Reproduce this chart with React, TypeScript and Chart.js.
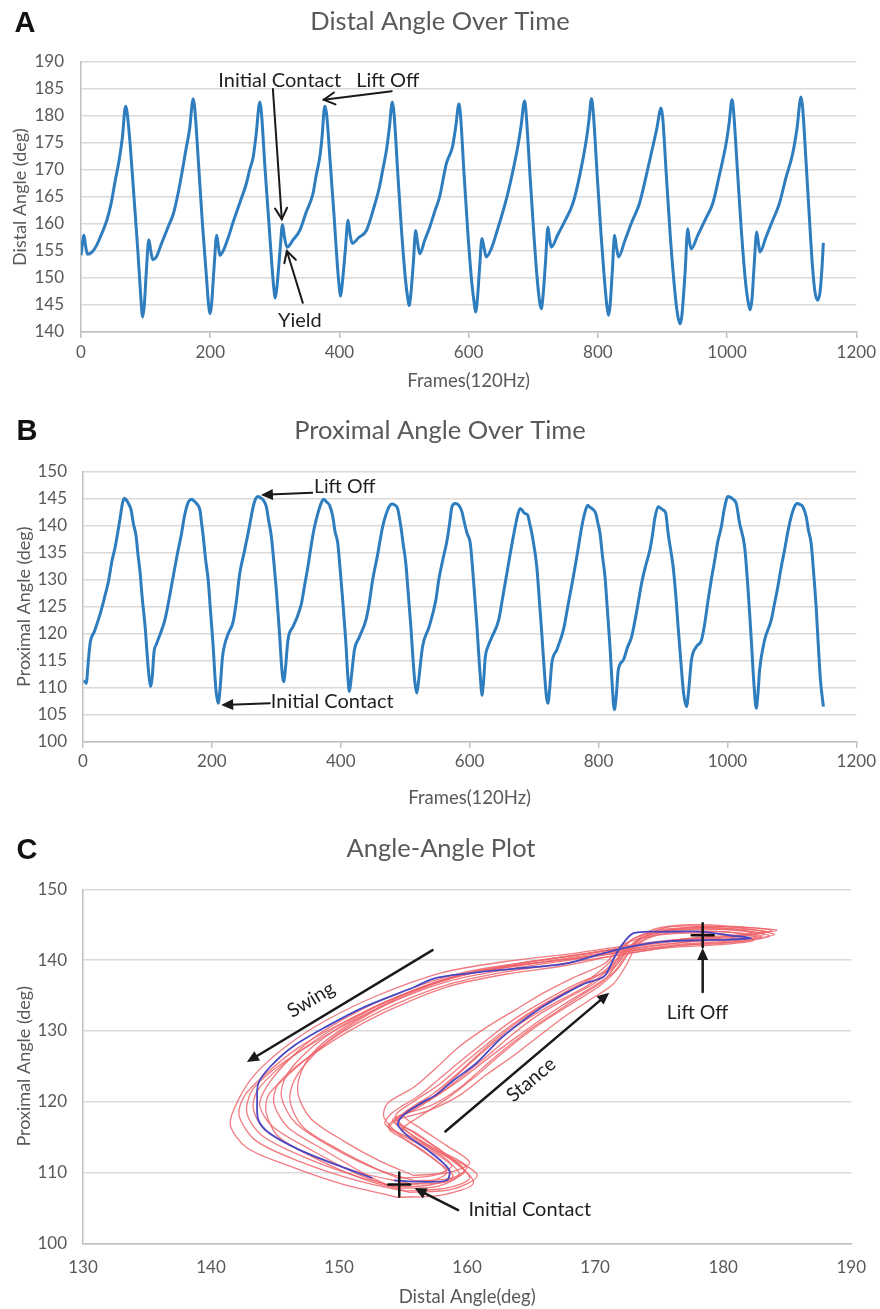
import React, { useEffect, useRef } from "react";
import { Chart, registerables } from "chart.js";
Chart.register(...registerables);

const FONT = "Lato, 'Open Sans', sans-serif";
const GRAY = "#595959";
const GRID = "#D9D9D9";
const AXIS = "#BFBFBF";
const INK = "#1f1f1f";
const BLUE = "#2E7DBE";
const RED = "rgba(238,100,106,0.85)";
const MEAN = "#4848C4";

Chart.defaults.font.family = FONT;

// ---------- Panel A: distal angle over time ----------
const distalFrames = [
  0, 4.6, 7, 10, 17, 24, 32, 40, 47, 52.6, 59, 64, 69, 71, 76, 82, 88, 92, 95.4, 98, 101, 105, 108, 111, 116, 125, 135, 143, 150, 156, 162, 168, 173.7,
  176, 182, 188, 194, 197.5, 199.5, 202, 206, 210, 212.5, 215, 220, 228, 235.6, 246, 256, 261, 266.5, 271, 276.8,
  279, 285, 291, 296, 299, 300.5, 303, 308, 311.9, 315, 319, 328, 338.7, 348, 359, 364, 369.6, 373, 377.3,
  380, 386, 392, 397, 400, 401.6, 404, 409, 413.4, 416.5, 420, 430, 441.8, 452, 462, 467, 472.7, 477, 482,
  484.5, 490, 496, 502, 506, 507.8, 510.5, 514.5, 518, 521, 524.4, 532, 540, 548, 555, 565.5, 575, 580, 585,
  587.5, 593, 599, 605, 609, 610.8, 613.5, 617, 620.6, 624, 627.3, 635, 646, 658, 667, 676, 681, 686.6,
  689, 695, 701, 706, 710, 712.4, 715, 719, 722.7, 725, 727.9, 738, 750, 761.3, 772, 782, 786, 790.2,
  793, 799, 805, 810, 814, 816.5, 819, 822.5, 825.8, 829, 832, 842, 853, 864.4, 875, 885, 891, 898,
  900.5, 906, 912, 918, 923, 927.3, 930, 935, 939.2, 941.5, 944.4, 955, 967, 977.8, 988, 998.5, 1003, 1007.7,
  1010, 1016, 1022, 1028, 1032, 1035.6, 1038.5, 1042, 1045.9, 1048.5, 1051, 1060, 1070, 1081, 1091, 1101.5, 1108, 1114.5,
  1117, 1122, 1127, 1132, 1136, 1140.2, 1144, 1147, 1149,
];
const distalDeg = [
  154.2, 157.9, 156, 154.4, 154.8, 156, 158.2, 160.7, 164, 167.8, 171.8, 176, 181.8, 181, 174.9, 165, 155, 147.5, 142.8, 145, 151, 157.1, 155, 153.4, 153.8, 156.5, 159.5, 161.9, 165.5, 169.3, 173.5, 177.5, 183.2,
  181.5, 171, 160, 150.5, 145, 143.4, 145, 152, 157.9, 156, 154.2, 155, 157.5, 160.4, 164, 167.5, 170, 172.4, 176.5, 182.6,
  181, 170, 160, 151.5, 147.5, 146.3, 148, 155, 159.9, 157.5, 155.7, 157, 158.8, 162, 165.6, 169, 172.4, 176, 181.8,
  180.5, 171, 161, 152, 148, 146.6, 148.5, 155, 160.7, 158, 156.4, 157.5, 158.8, 162.5, 166.9, 170, 173.6, 177.5, 182.6,
  180.5, 170, 159, 150, 146, 144.9, 147, 153, 158.8, 156.5, 154.5, 157, 159.5, 162.5, 165, 171.2, 174.3, 178, 182.2,
  180, 169, 158, 149, 145, 143.7, 146, 152, 157.3, 155.5, 153.9, 155.4, 159.5, 164.4, 169, 174.3, 178, 182.8,
  180.5, 169, 158, 150, 145.5, 144.3, 146.5, 153, 159.4, 157.5, 155.7, 158, 160.8, 163.8, 169, 175.5, 179, 183.2,
  180.5, 169, 158, 150, 144.8, 143.1, 145, 151.5, 157.9, 155.5, 153.9, 157, 160.5, 163.8, 169, 174.3, 177.5, 181.5,
  179.5, 169, 158, 149, 143.5, 141.5, 143, 151, 159.1, 157, 155.4, 158, 161, 163.8, 169, 174.9, 178.5, 183,
  181, 170, 159, 150, 146, 144.1, 146, 152.5, 158.5, 156.5, 154.8, 157.5, 160.5, 163.8, 168.5, 173, 177.5, 183.5,
  181.5, 172, 162, 152.5, 147.5, 145.9, 147.5, 152, 156.5,
];

// ---------- Panel B: proximal angle over time ----------
const proxFrames = [
  2, 5, 8, 11, 18, 27, 33, 40, 45, 50, 55, 58, 61, 64, 67, 70.6, 74.7, 78, 82.5, 85, 88.7, 92, 96.4, 100, 103, 105,
  107.5, 110, 114.4, 120, 127, 133, 140, 146, 153, 157, 160.8, 164, 168.6, 172, 176.3, 181.5, 184, 186.6, 190, 194.3, 198, 202, 206, 209.8,
  212.5, 216.5, 220, 225.3, 233, 238, 243.3, 250, 256.2, 260, 264, 268, 271.7, 275, 279.4, 284.6, 288, 292.3, 296, 300, 305, 308.5, 311.4,
  314.5, 318, 326, 333, 339, 344, 349, 355, 359.3, 365, 369, 373.2, 378, 382.5, 387.6, 391, 395.4, 399, 403, 408.3, 411, 413.4,
  416, 421.2, 429, 439, 444, 449.4, 457, 465, 470, 475, 479.4, 484, 488.2, 493.3, 497, 501, 505, 508.8, 512, 515, 518,
  521, 526.9, 537.2, 547.5, 552, 558, 565, 569, 572.6, 577.8, 583, 588, 592, 596, 601, 606, 611.4, 615, 617.5, 619,
  621.5, 624.3, 628.4, 634.6, 645, 651, 657.8, 664, 670.7, 675, 678.4, 682, 685, 690, 693, 696.5, 704.2, 708, 712, 716, 719, 721.3,
  724, 727.5, 735.2, 745.5, 753, 761, 768, 774, 779, 783.2, 786, 789.4, 795.6, 799, 802.3, 806, 810, 814, 817.8, 821, 824.5,
  827.5, 830.7, 838.4, 845, 851.3, 859, 866.8, 873, 879.7, 884, 887.4, 892.6, 897, 900.3, 904.4, 908, 912, 915.8, 920, 923.5, 928, 932, 936.4,
  939.5, 944.2, 951.9, 959.7, 965, 970, 975, 980.3, 985, 990.6, 995, 1000.9, 1004, 1008.7, 1013.8, 1019, 1026.7, 1031, 1034.5, 1038, 1041, 1044.8,
  1047.5, 1050, 1057.7, 1068, 1073, 1078.3, 1083, 1088.7, 1094, 1099, 1104, 1108.3, 1113, 1117, 1122.2, 1126, 1130, 1134, 1137.7, 1141, 1144.4, 1149,
];
const proxDeg = [
  111.4, 110.8, 114.5, 118.2, 120.5, 123.8, 126.5, 130, 133.5, 136.1, 139.5, 141.7, 144, 145.1, 144.8, 144.1, 142.9, 140.5, 138, 135, 131.2, 126.5, 121.3, 115.5, 111.5, 110.2,
  112, 116.4, 118.2, 120, 122.5, 126, 130.6, 134.5, 138.6, 141.5, 143.5, 144.5, 144.9, 144.6, 144.1, 142.9, 140.5, 138, 134, 129.9, 124, 117.6, 110, 107.1,
  109.5, 115.7, 118, 120, 122.2, 126, 131.2, 135, 138.6, 141, 143.5, 145, 145.4, 145.2, 144.8, 143.5, 141, 138, 133.5, 128.1, 120, 113.5, 111.1,
  114, 118.8, 121.3, 123.3, 125.6, 129, 132.4, 137, 139.8, 142.5, 144, 144.9, 144.4, 143.8, 141.7, 139, 136.7, 132, 126.2, 117.6, 112, 109.3,
  111.5, 117, 119.4, 122.5, 125.5, 129.9, 134.5, 139.8, 142, 143.5, 144, 143.8, 143.2, 139.8, 136.5, 133, 127, 121.3, 115.5, 111, 109,
  111.5, 117.6, 121.3, 126.2, 129.9, 133.5, 137.3, 140.5, 143.5, 144.1, 143.8, 142.6, 140.5, 138.6, 136.7, 129.9, 121.3, 114.5, 110.5, 108.6,
  111, 115.7, 117.6, 119.4, 122.5, 126.5, 131.2, 135.5, 139.8, 142.2, 143.2, 142.8, 142.3, 142, 140.5, 138.6, 132.4, 126.5, 120, 113, 108.5, 107.1,
  109.5, 114.5, 117, 120.7, 125.5, 130.6, 135.5, 139.8, 142.5, 143.8, 143.5, 143.2, 142.3, 140.5, 138.6, 134.5, 130.6, 124, 117.6, 111, 105.9,
  108.5, 113.3, 115.1, 117.5, 119.4, 124, 129.3, 132.5, 135.5, 138.5, 141.4, 143.5, 143.2, 142.9, 142.3, 138.6, 135.5, 132.4, 127, 121.3, 114.5, 109, 106.5,
  109, 115.1, 117.6, 118.8, 122, 126.2, 130, 133.6, 137, 139.8, 143, 145.4, 145.3, 144.9, 144.1, 140.4, 136.1, 130, 123.8, 117, 111, 106.2,
  109, 113.3, 118.8, 122.5, 125.5, 128.7, 132, 135.5, 139, 141.7, 143.5, 144.1, 143.9, 143.5, 141.7, 139, 136.7, 131, 125, 118, 111.4, 106.5,
];

const frameTicks = [0, 200, 400, 600, 800, 1000, 1200];
const distalTicks = [140, 145, 150, 155, 160, 165, 170, 175, 180, 185, 190];
const proxTicks = [100, 105, 110, 115, 120, 125, 130, 135, 140, 145, 150];

// ---------- Panel C: angle-angle plot (distal, proximal) ----------
const meanCycle = [
  [154.3, 108.9], [156.4, 108.7], [158.4, 108.9], [158.6, 110.4], [156.9, 113.2], [155.4, 115.1], [154.6, 116.7], [154.9, 117.9],
  [156.4, 119.8], [157.6, 121.0], [159.0, 123.1], [160.7, 125.4], [162.5, 128.7], [164.1, 131.1], [165.9, 133.4], [167.7, 135.3],
  [169.2, 136.7], [170.7, 137.7], [171.4, 140.0], [172.0, 141.9], [173.0, 143.8], [175.3, 144.0], [178.4, 144.0], [180.5, 143.5],
  [182.2, 143.1], [180.5, 142.9], [177.9, 142.8], [175.3, 142.6], [172.8, 141.9], [170.7, 141.0], [167.7, 139.5], [163.8, 138.8],
  [160.0, 138.1], [157.4, 137.4], [155.9, 136.2], [152.0, 133.4], [149.0, 130.6], [146.4, 127.8], [144.6, 124.9], [143.7, 122.6],
  [143.6, 120.2], [143.7, 117.4], [144.6, 115.5], [146.9, 113.2], [149.5, 111.3], [152.6, 109.2],
];
const cycle1 = [[154.5,106.5],[158,106.8],[160.5,108.5],[159,111.5],[156,114.5],[153.6,116.8],[154.2,118.5],[156.2,120.8],[158,123.5],[159.8,126.2],[162,129.4],[163.8,131.8],[166,134.2],[168.5,136.6],[171.2,138.8],[172.6,141.8],[174.5,144.3],[177.5,145],[180.5,144.8],[183.8,144.2],[181,143.4],[177,143],[173,142.2],[168.5,141],[163,139.8],[158,138.2],[153,135],[149,131.5],[146,128],[143.5,124],[142.2,120.5],[141.5,116.8],[142.8,113.5],[146,111],[150,108.5],[154.5,106.5]];
const cycle2 = [[155.5,107.2],[158.8,107.6],[160.8,109.6],[158.5,112.3],[155.8,115.2],[154.2,117.5],[157.1,119.4],[159.3,121.8],[161.1,124.6],[162.7,127.1],[164.9,130.2],[166.9,132.6],[168.8,134.9],[170.6,137],[171.8,139.6],[173.2,142.6],[175.5,144.6],[178.5,144.8],[181.5,144.5],[184,143.6],[181.2,142.9],[177.5,142.6],[173.5,141.8],[169,140.6],[164,139.2],[159,137.6],[154,134.4],[150,130.9],[146.8,127.6],[144.2,123.8],[142.6,120.8],[142.2,118],[143.5,114.5],[147,111.5],[151.5,108.8],[155.5,107.2]];
const cycle3 = [[154.8,107.8],[157.6,108],[159.4,109.8],[157.6,112.6],[155.2,115],[153.8,116.5],[155,118.2],[157.2,120.5],[159,123.4],[160.6,126],[162.4,128.8],[164.8,131.8],[166.9,134],[169.4,136.4],[171,138.6],[172.4,141.4],[174.2,143.6],[177.2,144.1],[180.2,144],[182.6,143.2],[180,142.6],[176.4,142.2],[172.5,141.2],[168,140],[163.5,138.8],[158.5,137],[153.5,133.6],[149.8,130.2],[147.2,127.4],[144.8,124.4],[143.2,121.6],[142.8,118.4],[144,115.2],[147.5,112],[151.5,109.4],[154.8,107.8]];
const cycle4 = [[155.6,108.4],[158.2,108.6],[159.8,110.2],[158.2,112.8],[156,115.4],[154.6,117.4],[156,119],[158,121.3],[159.9,124],[161.8,126.8],[163.6,129.6],[165.6,132.3],[167.8,134.6],[170,136.8],[171.6,139.2],[172.8,142],[174.6,143.8],[177.6,144.4],[180.8,144.2],[183.2,143.6],[180.6,143],[176.8,142.5],[172.8,141.5],[168.6,140.3],[164,139.3],[159.2,137.8],[154.5,134.8],[150.6,131.4],[147.6,128],[145.2,124.6],[143.6,121.5],[143.3,119],[144.2,116],[147.4,112.8],[151.6,110],[155.6,108.4]];
const cycle5 = [[154.2,108],[157,108.2],[158.9,109.5],[157.3,112],[155.2,114.6],[153.9,116.2],[155.2,118.6],[157.4,121.2],[159.4,124.2],[161.2,127.2],[163,129.9],[165.2,132.8],[167.4,135.2],[169.6,137.4],[171.2,139.8],[172.6,142.6],[174.8,144.2],[178,144.6],[181,144.4],[183.4,144],[180.8,143.2],[177,142.8],[173,141.9],[168.8,140.8],[164.2,139.6],[159.6,138.2],[155,135.6],[151,132.3],[148,129],[145.8,125.4],[144.3,122],[143.8,119.5],[144.8,116.5],[148,113],[151.4,109.8],[154.2,108]];
const cycle6 = [[155.2,107.4],[158.4,107.8],[160.2,109.2],[158.8,111.8],[156.4,114.4],[154.9,116],[156.2,117.8],[158.4,120.4],[160.4,123.2],[162.2,126],[164.2,129],[166.2,131.6],[168.3,134],[170.4,136.4],[171.8,138.8],[173,141.8],[175,143.6],[178.2,144],[181.4,143.8],[183,143.2],[180.2,142.4],[176.4,142],[172.2,140.8],[167.8,139.6],[163.2,138.4],[158.6,136.6],[154.2,133.6],[150.4,130],[147.8,126.6],[145.8,123.4],[144.5,121],[144.3,118.5],[145.3,115],[148.6,111.6],[152,109],[155.2,107.4]];
const cycle7 = [[153.8,108.2],[156.8,108.6],[158.4,110],[156.8,112.8],[154.8,115.2],[153.5,117.8],[153.8,119.8],[155.8,122],[157.6,124.8],[159.4,127.8],[161.6,130.6],[163.8,133],[166,135.4],[168.4,137.6],[170.8,139.6],[172.2,142.2],[174.4,143.4],[177.4,143.8],[180.4,143.6],[182.4,142.8],[179.8,142.2],[176,141.8],[172,140.8],[167.6,139.2],[163,138],[158.4,136.2],[154,133],[150.6,129.8],[148.2,127],[146.4,124.6],[145.2,122.4],[144.9,119.8],[146,116.4],[149,113],[151.8,110],[153.8,108.2]];
const cycle8 = [[156,108.8],[158.8,109.2],[160,110.8],[158,113],[156,115.6],[154.4,117.2],[157.1,118.8],[159.5,121],[161.5,123.8],[163.7,126.6],[165.7,129.4],[167.6,132],[169.6,134.4],[171.4,136.6],[172.4,139.2],[173.4,142.4],[175.4,144],[178.6,144.4],[181.6,144.2],[183.6,143.4],[181,142.6],[177.2,142.2],[173.2,141.4],[169.2,140.4],[164.6,139.4],[160,138],[155.4,135.4],[151.6,132.2],[148.8,129],[147,126.2],[145.8,123.4],[145.5,120.6],[146.6,117],[149.6,113.4],[153,110.4],[156,108.8]];
const cycle9 = [[154.6,109.2],[157.4,109.6],[158.8,111],[157,113.6],[155.2,116],[154.4,118],[155.8,120],[157.8,122.4],[159.6,125.2],[161.6,128.2],[163.6,131],[165.8,133.6],[168,135.8],[170.2,137.8],[171.6,140],[172.8,142.8],[174.6,144],[177.8,144.6],[180.6,144.4],[182.2,143.8],[179.6,143.2],[176,142.8],[172.4,141.8],[168.2,140.6],[163.8,139.4],[159.4,137.8],[155.2,135],[151.8,131.8],[149.2,128.6],[147.4,125.4],[146.4,122.6],[146.2,119.8],[147.2,116.4],[150,113.2],[152.6,110.8],[154.6,109.2]];
const cycle10 = [[155.8,109.6],[158.6,110],[160.2,111.4],[158.4,113.8],[156.4,116.2],[155,118.2],[157.2,120.4],[159.4,123],[161.4,125.8],[163.6,128.8],[165.6,131.4],[167.6,133.8],[169.6,136],[171.4,138.2],[172.4,140.6],[173.6,143],[175.6,144.2],[178.8,144.8],[181.8,144.6],[184.2,144.2],[181.6,143.6],[178,143.2],[173.8,142.2],[169.6,141],[165,139.8],[160.6,138.4],[156.2,136],[152.8,133],[150,130],[148,127],[147,124],[146.8,121],[147.8,117.6],[150.4,114.4],[153.2,111.6],[155.8,109.6]];
const cycles = [cycle1, cycle2, cycle3, cycle4, cycle5, cycle6, cycle7, cycle8, cycle9, cycle10];

const distalTicksC = [130, 140, 150, 160, 170, 180, 190];
const proxTicksC = [100, 110, 120, 130, 140, 150];

// ---------- annotations (data coordinates) ----------
const annA = [
  { k: "text", x: 307.7, y: 186.5, t: "Initial Contact", size: 20 },
  { k: "text", x: 474.7, y: 186.5, t: "Lift Off", size: 20 },
  { k: "arrow", x1: 481, y1: 184.6, x2: 375.8, y2: 183.0, open: true },
  { k: "arrow", x1: 297, y1: 185, x2: 310.8, y2: 160.9, open: true },
  { k: "text", x: 338.7, y: 142.2, t: "Yield", size: 20 },
  { k: "arrow", x1: 343.3, y1: 145.4, x2: 318.6, y2: 155.0, open: true },
];
const annB = [
  { k: "text", x: 358.3, y: 147.2, t: "Lift Off", size: 19.5, align: "left" },
  { k: "arrow", x1: 355.7, y1: 146.1, x2: 276.1, y2: 145.7 },
  { k: "text", x: 291.5, y: 107.4, t: "Initial Contact", size: 20, align: "left" },
  { k: "arrow", x1: 290, y1: 107.1, x2: 214.4, y2: 106.8 },
];
const annC = [
  { k: "arrow", x1: 157.3, y1: 141.4, x2: 142.8, y2: 125.6, w: 2.5 },
  { k: "text", x: 147.8, y: 134.4, t: "Swing", size: 19.5, rot: -31 },
  { k: "arrow", x1: 158.3, y1: 115.8, x2: 171.1, y2: 135.4, w: 2.5 },
  { k: "text", x: 165.0, y: 123.1, t: "Stance", size: 19.5, rot: -40 },
  { k: "arrow", x1: 178.4, y1: 135.5, x2: 178.4, y2: 141.7, w: 2.5 },
  { k: "text", x: 178.0, y: 132.5, t: "Lift Off", size: 19.5 },
  { k: "cross", x: 178.4, y: 143.5 },
  { k: "cross", x: 154.7, y: 108.3 },
  { k: "arrow", x1: 159.3, y1: 104.7, x2: 155.9, y2: 107.8, w: 2.5 },
  { k: "text", x: 160.1, y: 104.7, t: "Initial Contact", size: 20, align: "left" },
];

function annPlugin(items: any[], labels: any[]) {
  return {
    id: "ann",
    afterDatasetsDraw(chart: any) {
      const ctx = chart.ctx;
      const xs = chart.scales.x;
      const ys = chart.scales.y;
      const X = (v: number) => xs.getPixelForValue(v);
      const Y = (v: number) => ys.getPixelForValue(v);
      ctx.save();
      for (const l of labels) {
        ctx.font = l.font;
        ctx.fillStyle = l.color;
        ctx.textAlign = "center";
        ctx.textBaseline = "middle";
        ctx.fillText(l.t, l.px, l.py);
      }
      for (const a of items) {
        if (a.k === "text") {
          ctx.save();
          ctx.translate(X(a.x), Y(a.y));
          ctx.rotate(((a.rot || 0) * Math.PI) / 180);
          ctx.font = `${a.size}px ${FONT}`;
          ctx.fillStyle = INK;
          ctx.textAlign = a.align || "center";
          ctx.textBaseline = "middle";
          ctx.fillText(a.t, 0, 0);
          ctx.restore();
        } else if (a.k === "arrow") {
          const x1 = X(a.x1), y1 = Y(a.y1), x2 = X(a.x2), y2 = Y(a.y2);
          const ang = Math.atan2(y2 - y1, x2 - x1);
          const L = a.open ? 11 : 12;
          const W = a.open ? 6 : 5.5;
          ctx.strokeStyle = "#1a1a1a";
          ctx.fillStyle = "#1a1a1a";
          ctx.lineWidth = a.w || 2;
          ctx.lineCap = "round";
          const ex = a.open ? x2 : x2 - Math.cos(ang) * L * 0.7;
          const ey = a.open ? y2 : y2 - Math.sin(ang) * L * 0.7;
          ctx.beginPath();
          ctx.moveTo(x1, y1);
          ctx.lineTo(ex, ey);
          ctx.stroke();
          const bx = x2 - Math.cos(ang) * L;
          const by = y2 - Math.sin(ang) * L;
          const nx = -Math.sin(ang) * W;
          const ny = Math.cos(ang) * W;
          ctx.beginPath();
          ctx.moveTo(bx + nx, by + ny);
          ctx.lineTo(x2, y2);
          ctx.lineTo(bx - nx, by - ny);
          if (a.open) {
            ctx.stroke();
          } else {
            ctx.closePath();
            ctx.fill();
          }
        } else if (a.k === "cross") {
          const cx = X(a.x), cy = Y(a.y);
          ctx.strokeStyle = "#111";
          ctx.lineWidth = 2.5;
          ctx.beginPath();
          ctx.moveTo(cx - 11, cy);
          ctx.lineTo(cx + 11, cy);
          ctx.moveTo(cx, cy - 12);
          ctx.lineTo(cx, cy + 12);
          ctx.stroke();
        }
      }
      ctx.restore();
    },
  };
}

const tickFont = { family: FONT, size: 17 };
const titleFont = { family: FONT, size: 18.5 };
const yTitleFont = { family: FONT, size: 18 };
const LETTER_FONT = "bold 29px 'Liberation Sans', Arial, sans-serif";
const PANEL_TITLE_FONT = `25.5px ${FONT}`;

function setTicks(values: number[]) {
  return (s: any) => {
    s.ticks = values.map((v) => ({ value: v }));
  };
}

function timeConfig(frames: number[], values: number[], yMin: number, yMax: number, yTicks: number[], yTitle: string, geo: any, ann: any[], labels: any[]) {
  return {
    type: "scatter",
    data: {
      datasets: [
        {
          data: frames.map((f, i) => ({ x: f, y: values[i] })),
          showLine: true,
          borderColor: BLUE,
          borderWidth: 3,
          pointRadius: 0,
          cubicInterpolationMode: "monotone",
        },
      ],
    },
    options: {
      animation: false,
      responsive: false,
      events: [],
      layout: { padding: { left: 0, top: geo.top, right: geo.right, bottom: 0 } },
      plugins: { legend: { display: false }, tooltip: { enabled: false }, title: { display: false } },
      scales: {
        x: {
          type: "linear",
          min: 0,
          max: 1200,
          afterBuildTicks: setTicks(frameTicks),
          ticks: { color: GRAY, font: tickFont, padding: 4, maxRotation: 0, callback: (v: any) => String(v) },
          grid: { drawOnChartArea: false, drawTicks: true, tickLength: 6, color: AXIS, lineWidth: 1.5 },
          border: { display: true, color: AXIS, width: 1.5 },
          title: { display: true, text: "Frames(120Hz)", color: GRAY, font: titleFont, padding: { top: 0, bottom: geo.xTitlePad } },
          afterFit: (s: any) => {
            s.height = geo.xh;
          },
        },
        y: {
          type: "linear",
          min: yMin,
          max: yMax,
          afterBuildTicks: setTicks(yTicks),
          ticks: { color: GRAY, font: tickFont, padding: geo.yTickPad, callback: (v: any) => String(v) },
          grid: { color: GRID, lineWidth: 1.5, drawTicks: false },
          border: { display: true, color: AXIS, width: 1.5 },
          title: { display: true, text: yTitle, color: GRAY, font: yTitleFont, padding: { top: geo.yTitlePad, bottom: 0 } },
          afterFit: (s: any) => {
            s.width = geo.yw;
          },
        },
      },
    },
    plugins: [annPlugin(ann, labels)],
  };
}

function loopConfig() {
  // Chart.js draws the first dataset on top, so the mean cycle goes first.
  const datasets: any[] = [
    {
      data: meanCycle.map(([d, p]) => ({ x: d, y: p })),
      showLine: true,
      borderColor: MEAN,
      borderWidth: 1.8,
      pointRadius: 0,
      tension: 0.3,
    },
  ];
  cycles.forEach((c) =>
    datasets.push({
      data: c.map(([d, p]) => ({ x: d, y: p })),
      showLine: true,
      borderColor: RED,
      borderWidth: 1.3,
      pointRadius: 0,
      tension: 0.3,
    })
  );
  return {
    type: "scatter",
    data: { datasets },
    options: {
      animation: false,
      responsive: false,
      events: [],
      layout: { padding: { left: 0, top: 74.3, right: 16, bottom: 0 } },
      plugins: { legend: { display: false }, tooltip: { enabled: false } },
      scales: {
        x: {
          type: "linear",
          min: 130,
          max: 190,
          afterBuildTicks: setTicks(distalTicksC),
          ticks: { color: GRAY, font: tickFont, padding: 14, maxRotation: 0, callback: (v: any) => String(v) },
          grid: { display: false, drawTicks: false },
          border: { display: true, color: AXIS, width: 1.5 },
          title: { display: true, text: "Distal Angle(deg)", color: GRAY, font: titleFont, padding: { top: 0, bottom: 1 } },
          afterFit: (s: any) => {
            s.height = 65.7;
          },
        },
        y: {
          type: "linear",
          min: 100,
          max: 150,
          afterBuildTicks: setTicks(proxTicksC),
          ticks: { color: GRAY, font: tickFont, padding: 16, callback: (v: any) => String(v) },
          grid: { color: GRID, lineWidth: 1.5, drawTicks: false },
          border: { display: true, color: AXIS, width: 1.5 },
          title: { display: true, text: "Proximal Angle (deg)", color: GRAY, font: yTitleFont, padding: { top: 13, bottom: 0 } },
          afterFit: (s: any) => {
            s.width = 83;
          },
        },
      },
    },
    plugins: [
      annPlugin(annC, [
        { t: "C", px: 27, py: 36, font: LETTER_FONT, color: "#111" },
        { t: "Angle-Angle Plot", px: 441, py: 34, font: PANEL_TITLE_FONT, color: GRAY },
      ]),
    ],
  };
}

function ChartCanvas({ top, height, make }: { top: number; height: number; make: () => any }) {
  const ref = useRef<HTMLCanvasElement | null>(null);
  useEffect(() => {
    if (!ref.current) return;
    const chart = new Chart(ref.current, make());
    return () => chart.destroy();
  }, []);
  return (
    <canvas
      ref={ref}
      width={880}
      height={height}
      style={{ position: "absolute", left: 0, top, width: 880, height }}
    />
  );
}

export default function App() {
  return (
    <div style={{ position: "absolute", left: 0, top: 0, width: 880, height: 1309, background: "#fff", overflow: "hidden" }}>
      <ChartCanvas
        top={0}
        height={405}
        make={() =>
          timeConfig(distalFrames, distalDeg, 140, 190, distalTicks, "Distal Angle (deg)",
            { top: 62, right: 23, xh: 73, yw: 81, xTitlePad: 13, yTickPad: 17, yTitlePad: 9 },
            annA,
            [
              { t: "A", px: 25, py: 24, font: LETTER_FONT, color: "#111" },
              { t: "Distal Angle Over Time", px: 440, py: 22, font: PANEL_TITLE_FONT, color: GRAY },
            ])
        }
      />
      <ChartCanvas
        top={405}
        height={410}
        make={() =>
          timeConfig(proxFrames, proxDeg, 100, 150, proxTicks, "Proximal Angle (deg)",
            { top: 66.7, right: 19, xh: 73.3, yw: 83, xTitlePad: 6, yTickPad: 16, yTitlePad: 13 },
            annB,
            [
              { t: "B", px: 27, py: 27, font: LETTER_FONT, color: "#111" },
              { t: "Proximal Angle Over Time", px: 440, py: 26, font: PANEL_TITLE_FONT, color: GRAY },
            ])
        }
      />
      <ChartCanvas top={815} height={494} make={loopConfig} />
    </div>
  );
}
